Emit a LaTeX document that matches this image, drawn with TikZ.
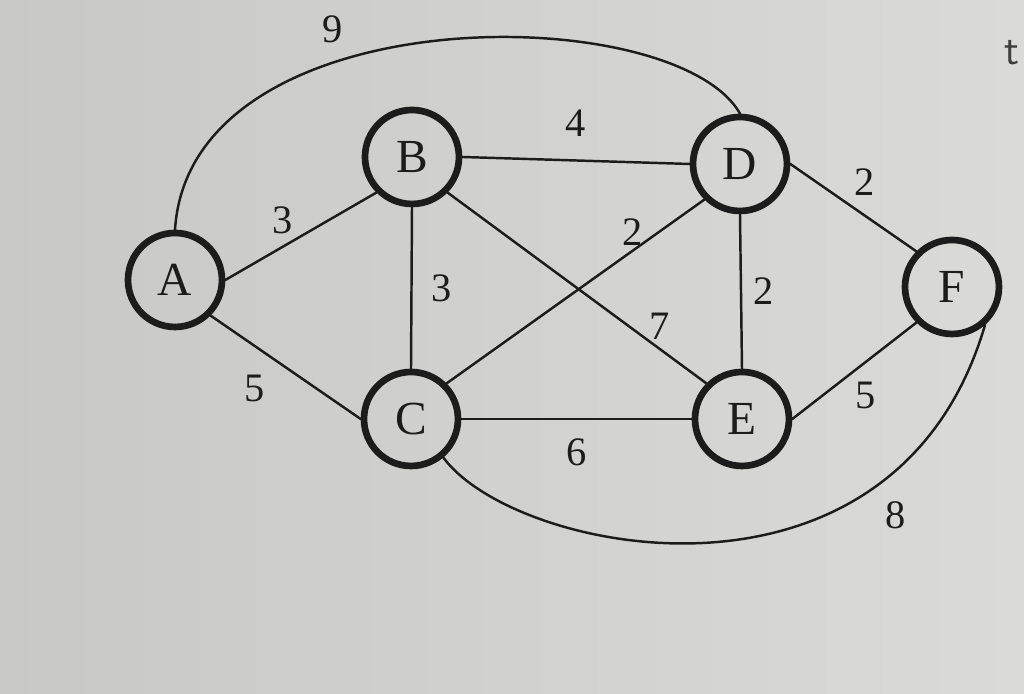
\documentclass[tikz,border=0pt]{standalone}
\usepackage{fontspec}
\setmainfont{Liberation Serif}
\definecolor{paperL}{HTML}{C8C8C6}
\definecolor{paperR}{HTML}{DADAD8}
\definecolor{ink}{HTML}{1C1C1C}

\begin{document}
\begin{tikzpicture}[x=1cm,y=1cm,line cap=round,line join=round,
  vert/.style={circle,draw=ink,line width=1.9pt,minimum size=0.94cm,inner sep=0pt,
    font=\fontsize{13.5}{15}\selectfont,text=ink},
  link/.style={draw=ink,line width=0.7pt},
  wt/.style={font=\fontsize{11.5}{13}\selectfont,text=ink}]
  \shade[left color=paperL,right color=paperR] (0,0) rectangle (10.24,6.94);
  \useasboundingbox (0,0) rectangle (10.24,6.94);

  % ---- vertices ----
  \node[vert] (A) at (1.75,4.14) {A};
  \node[vert] (B) at (4.12,5.37) {B};
  \node[vert] (C) at (4.11,2.75) {C};
  \node[vert] (D) at (7.40,5.30) {D};
  \node[vert] (E) at (7.42,2.75) {E};
  \node[vert] (F) at (9.52,4.07) {F};

  % ---- straight edges ----
  \draw[link] (A.east) -- (B.south west) node[wt,pos=.38,above] {3};
  \draw[link] (A.south east) -- (C.west) node[wt,pos=.45,below left] {5};
  \draw[link] (B.south) -- (C.north) node[wt,midway,right=2pt] {3};
  \draw[link] (B.east) -- (D.west) node[wt,midway,above=3pt] {4};
  \draw[link] (B.south east) -- (E.north west) node[wt,pos=.82,above=-1pt] {7};
  \draw[link] (C.north east) -- (D.south west) node[wt,pos=.72,above=-2pt] {2};
  \draw[link] (C.east) -- (E.west) node[wt,midway,below=2pt] {6};
  \draw[link] (D.south) -- (E.north) node[wt,midway,right] {2};
  \draw[link] (D.east) -- (F.north west) node[wt,pos=.59,above=2pt] {2};
  \draw[link] (E.east) -- (F.south west) node[wt,pos=.59,below=2pt] {5};

  % ---- curved edges ----
  \draw[link] (A.north) .. controls +(0.15,2.35) and +(-0.65,1.15) .. (D.north)
    node[wt,pos=.36,above=2pt] {9};
  \draw[link] (C.-50) .. controls +(0.71,-0.97) and +(-0.90,-3.07) .. (F.-49)
    node[wt,pos=.75,below right] {8};

  % ---- margin mark ----
  \node[font=\sffamily\fontsize{12}{14}\selectfont,text=ink!85] (mark) at (10.12,6.41) {t};
\end{tikzpicture}
\end{document}
